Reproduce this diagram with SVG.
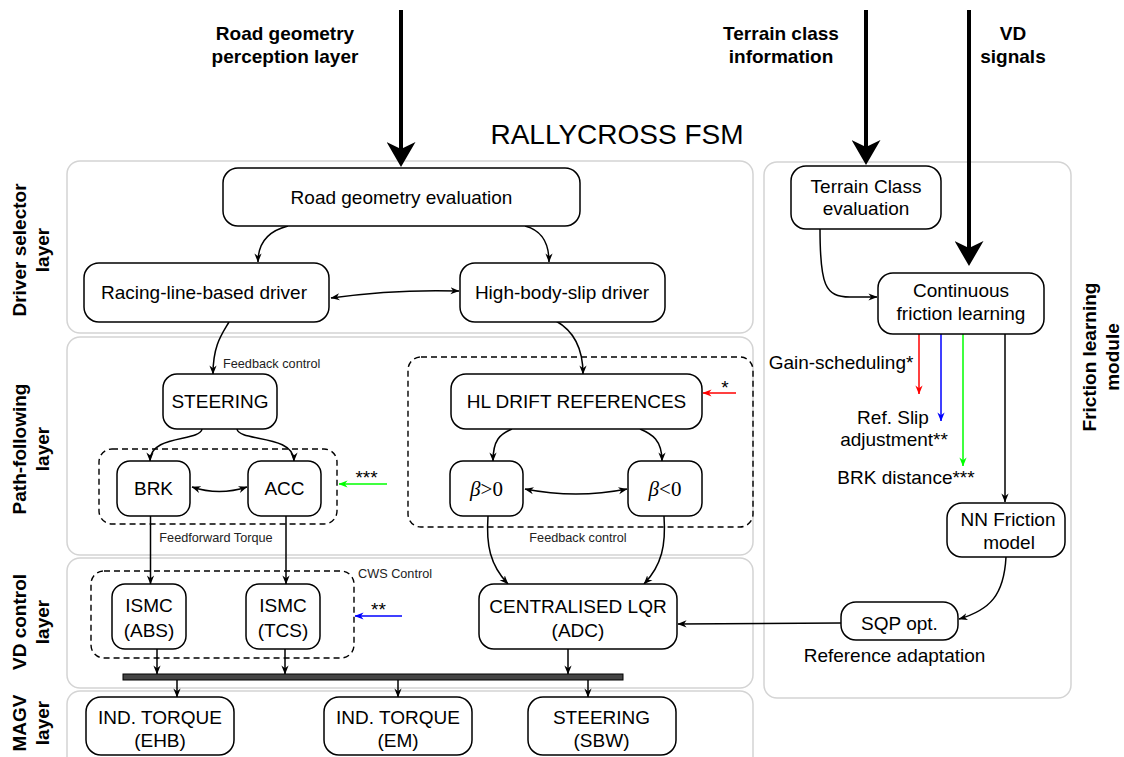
<svg xmlns="http://www.w3.org/2000/svg" width="1124" height="757" viewBox="0 0 1124 757">
  <style>
    .panel{fill:#fff;stroke:#d4d4d4;stroke-width:1.5}
    .node{fill:#fff;stroke:#000;stroke-width:1.5}
    .group{fill:none;stroke:#000;stroke-width:1.4;stroke-dasharray:6 4}
    text{font-family:"Liberation Sans",Arial,sans-serif;fill:#000}
    .lbl{font-size:19px;text-anchor:middle}
    .bold{font-size:19px;font-weight:bold;text-anchor:middle}
    .small{font-size:12.7px;fill:#222}
    .math{font-family:"Liberation Serif","Times New Roman",serif;font-size:21px;text-anchor:middle}
    .wire{fill:none;stroke:#000;stroke-width:1.5}
    .thick{fill:none;stroke:#000;stroke-width:4}
    .bus{fill:#444;stroke:#000;stroke-width:1}
  </style>
  <defs>
    <marker id="arr" viewBox="0 0 10 10" refX="9.5" refY="5" markerWidth="9" markerHeight="9" markerUnits="userSpaceOnUse" orient="auto-start-reverse">
      <path d="M0,1 L10,5 L0,9 L3,5 z" fill="#000"/>
    </marker>
    <marker id="arrR" viewBox="0 0 10 10" refX="9.5" refY="5" markerWidth="9" markerHeight="9" markerUnits="userSpaceOnUse" orient="auto">
      <path d="M0,1 L10,5 L0,9 L3,5 z" fill="#f00"/>
    </marker>
    <marker id="arrB" viewBox="0 0 10 10" refX="9.5" refY="5" markerWidth="9" markerHeight="9" markerUnits="userSpaceOnUse" orient="auto">
      <path d="M0,1 L10,5 L0,9 L3,5 z" fill="#00f"/>
    </marker>
    <marker id="arrG" viewBox="0 0 10 10" refX="9.5" refY="5" markerWidth="9" markerHeight="9" markerUnits="userSpaceOnUse" orient="auto">
      <path d="M0,1 L10,5 L0,9 L3,5 z" fill="#0f0"/>
    </marker>
    <marker id="big" viewBox="0 0 25 29" refX="7" refY="14.5" markerWidth="25" markerHeight="29" markerUnits="userSpaceOnUse" orient="auto">
      <path d="M0,0 L25,14.5 L0,29 L7,14.5 z" fill="#000"/>
    </marker>
  </defs>

  <!-- layer panels -->
  <g id="panels">
    <rect class="panel" x="67" y="161" width="686" height="172" rx="13"/>
    <rect class="panel" x="67" y="337" width="686" height="218" rx="13"/>
    <rect class="panel" x="67" y="558" width="686" height="130" rx="13"/>
    <rect class="panel" x="67" y="691" width="686" height="80" rx="13"/>
    <rect class="panel" x="764" y="162" width="307" height="536" rx="13"/>
  </g>

  <!-- layer captions -->
  <g id="captions">
    <text class="bold" transform="translate(26,250) rotate(-90)">Driver selector</text>
    <text class="bold" transform="translate(49,250) rotate(-90)">layer</text>
    <text class="bold" transform="translate(26,449) rotate(-90)">Path-following</text>
    <text class="bold" transform="translate(49,449) rotate(-90)">layer</text>
    <text class="bold" transform="translate(26,622) rotate(-90)">VD control</text>
    <text class="bold" transform="translate(49,622) rotate(-90)">layer</text>
    <text class="bold" transform="translate(26,723) rotate(-90)">MAGV</text>
    <text class="bold" transform="translate(49,723) rotate(-90)">layer</text>
    <text class="bold" transform="translate(1096,357) rotate(-90)">Friction learning</text>
    <text class="bold" transform="translate(1119,357) rotate(-90)">module</text>

    <text class="bold" x="285" y="40">Road geometry</text>
    <text class="bold" x="285" y="63">perception layer</text>
    <text class="bold" x="781" y="40">Terrain class</text>
    <text class="bold" x="781" y="63">information</text>
    <text class="bold" x="1013" y="40">VD</text>
    <text class="bold" x="1013" y="63">signals</text>

    <text x="617" y="144" font-size="28" text-anchor="middle">RALLYCROSS FSM</text>
  </g>

  <!-- dashed groupings -->
  <g id="groupings">
    <rect class="group" x="99" y="449" width="238" height="75" rx="13"/>
    <rect class="group" x="408" y="357" width="345" height="170" rx="13"/>
    <rect class="group" x="91" y="571" width="263" height="87" rx="13"/>
  </g>

  <!-- connectors -->
  <g id="connectors">
    <!-- external inputs -->
    <line class="thick" x1="401" y1="10" x2="401" y2="149" marker-end="url(#big)"/>
    <line class="thick" x1="866" y1="10" x2="866" y2="147" marker-end="url(#big)"/>
    <line class="thick" x1="969" y1="10" x2="969" y2="248" marker-end="url(#big)"/>

    <!-- driver selection -->
    <path class="wire" d="M288,226 C272,230 258,240 258,262" marker-end="url(#arr)"/>
    <path class="wire" d="M525,226 C540,230 549,240 549,262" marker-end="url(#arr)"/>
    <path class="wire" d="M331,298 Q395,289 459,291" marker-start="url(#arr)" marker-end="url(#arr)"/>

    <!-- path following -->
    <path class="wire" d="M229,322 C222,334 213,345 213,374" marker-end="url(#arr)"/>
    <path class="wire" d="M556,321 C572,330 583,345 583,374" marker-end="url(#arr)"/>
    <path class="wire" d="M202,429 C200,442 150,434 150,461" marker-end="url(#arr)"/>
    <path class="wire" d="M237,429 C239,442 294,434 294,461" marker-end="url(#arr)"/>
    <path class="wire" d="M192,487 Q219,496 247,487" marker-start="url(#arr)" marker-end="url(#arr)"/>
    <path class="wire" d="M512,429 C500,434 493,440 493,461" marker-end="url(#arr)"/>
    <path class="wire" d="M640,429 C652,434 662,440 662,461" marker-end="url(#arr)"/>
    <path class="wire" d="M525,489 Q576,499 627,489" marker-start="url(#arr)" marker-end="url(#arr)"/>

    <!-- feed-forward torque and feedback into VD control -->
    <line class="wire" x1="150.5" y1="516" x2="150.5" y2="584" marker-end="url(#arr)"/>
    <line class="wire" x1="286" y1="516" x2="286" y2="584" marker-end="url(#arr)"/>
    <path class="wire" d="M488,516 C486,545 490,565 508,584" marker-end="url(#arr)"/>
    <path class="wire" d="M664,516 C666,545 662,565 644,584" marker-end="url(#arr)"/>

    <!-- actuator bus -->
    <line class="wire" x1="157" y1="649" x2="157" y2="674" marker-end="url(#arr)"/>
    <line class="wire" x1="285" y1="649" x2="285" y2="674" marker-end="url(#arr)"/>
    <line class="wire" x1="568" y1="649" x2="568" y2="674" marker-end="url(#arr)"/>
    <rect class="bus" x="123" y="674" width="500" height="6"/>
    <line class="wire" x1="177" y1="680" x2="177" y2="697" marker-end="url(#arr)"/>
    <line class="wire" x1="398" y1="680" x2="398" y2="697" marker-end="url(#arr)"/>
    <line class="wire" x1="588" y1="680" x2="588" y2="697" marker-end="url(#arr)"/>

    <!-- friction learning -->
    <path class="wire" d="M820,229 C820,285 825,297 850,297 L877,297" marker-end="url(#arr)"/>
    <line x1="919" y1="334" x2="919" y2="394" stroke="#f00" stroke-width="1.5" marker-end="url(#arrR)"/>
    <line x1="941" y1="334" x2="941" y2="421" stroke="#00f" stroke-width="1.5" marker-end="url(#arrB)"/>
    <line x1="963" y1="334" x2="963" y2="466" stroke="#0f0" stroke-width="1.5" marker-end="url(#arrG)"/>
    <line class="wire" x1="1005" y1="334" x2="1005" y2="502" marker-end="url(#arr)"/>
    <path class="wire" d="M1006,557 C1004,595 990,610 959,619" marker-end="url(#arr)"/>
    <line class="wire" x1="841" y1="623" x2="678" y2="624" marker-end="url(#arr)"/>

    <!-- adaptation inputs -->
    <line x1="736" y1="393" x2="703" y2="393" stroke="#f00" stroke-width="1.5" marker-end="url(#arrR)"/>
    <line x1="402" y1="616" x2="355" y2="616" stroke="#00f" stroke-width="1.5" marker-end="url(#arrB)"/>
    <line x1="387" y1="484" x2="339" y2="484" stroke="#0f0" stroke-width="1.5" marker-end="url(#arrG)"/>

    <!-- connector labels -->
    <text class="small" x="223" y="367.5">Feedback control</text>
    <text class="small" x="216" y="541.5" text-anchor="middle">Feedforward Torque</text>
    <text class="small" x="578" y="541.5" text-anchor="middle">Feedback control</text>
    <text class="small" x="358" y="578">CWS Control</text>
    <text class="lbl" x="725" y="394">*</text>
    <text class="lbl" x="366.5" y="484">***</text>
    <text class="lbl" x="378.5" y="616">**</text>
    <text class="lbl" x="841" y="368.5" font-size="19">Gain-scheduling*</text>
    <text class="lbl" x="893" y="423.5">Ref. Slip</text>
    <text class="lbl" x="894" y="446">adjustment**</text>
    <text class="lbl" x="906" y="483.5">BRK distance***</text>
    <text class="lbl" x="894.5" y="661.5">Reference adaptation</text>
  </g>

  <!-- driver selector layer -->
  <g id="road-geometry-evaluation">
    <rect class="node" x="223" y="168" width="357" height="58" rx="15"/>
    <text class="lbl" x="401.5" y="203.5">Road geometry evaluation</text>
  </g>
  <g id="racing-line-driver">
    <rect class="node" x="84" y="263" width="245" height="59" rx="15"/>
    <text class="lbl" x="204" y="299">Racing-line-based driver</text>
  </g>
  <g id="high-body-slip-driver">
    <rect class="node" x="460" y="263" width="205" height="59" rx="15"/>
    <text class="lbl" x="562" y="299">High-body-slip driver</text>
  </g>

  <!-- path-following layer -->
  <g id="steering">
    <rect class="node" x="163" y="374" width="114" height="55" rx="14"/>
    <text class="lbl" x="220" y="408">STEERING</text>
  </g>
  <g id="brk">
    <rect class="node" x="117" y="461" width="73" height="55" rx="13"/>
    <text class="lbl" x="153.5" y="495">BRK</text>
  </g>
  <g id="acc">
    <rect class="node" x="248" y="461" width="73" height="55" rx="13"/>
    <text class="lbl" x="284.5" y="495">ACC</text>
  </g>
  <g id="hl-drift-references">
    <rect class="node" x="451" y="374" width="251" height="55" rx="15"/>
    <text class="lbl" x="576.5" y="408">HL DRIFT REFERENCES</text>
  </g>
  <g id="beta-positive">
    <rect class="node" x="450" y="461" width="73" height="55" rx="13"/>
    <text class="math" x="486.5" y="496"><tspan font-style="italic">β</tspan>&gt;0</text>
  </g>
  <g id="beta-negative">
    <rect class="node" x="628" y="461" width="74" height="55" rx="13"/>
    <text class="math" x="665" y="496"><tspan font-style="italic">β</tspan>&lt;0</text>
  </g>

  <!-- VD control layer -->
  <g id="ismc-abs">
    <rect class="node" x="112" y="584" width="74" height="65" rx="13"/>
    <text class="lbl" x="149" y="611.5">ISMC</text>
    <text class="lbl" x="149" y="636.5">(ABS)</text>
  </g>
  <g id="ismc-tcs">
    <rect class="node" x="246" y="584" width="74" height="65" rx="13"/>
    <text class="lbl" x="283" y="611.5">ISMC</text>
    <text class="lbl" x="283" y="636.5">(TCS)</text>
  </g>
  <g id="centralised-lqr">
    <rect class="node" x="479" y="584" width="198" height="65" rx="15"/>
    <text class="lbl" x="578" y="612.5">CENTRALISED LQR</text>
    <text class="lbl" x="578" y="636.5">(ADC)</text>
  </g>

  <!-- MAGV layer -->
  <g id="torque-ehb">
    <rect class="node" x="86" y="697" width="148" height="58" rx="15"/>
    <text class="lbl" x="160" y="723.5">IND. TORQUE</text>
    <text class="lbl" x="160" y="746.5">(EHB)</text>
  </g>
  <g id="torque-em">
    <rect class="node" x="324" y="697" width="148" height="58" rx="15"/>
    <text class="lbl" x="398" y="723.5">IND. TORQUE</text>
    <text class="lbl" x="398" y="746.5">(EM)</text>
  </g>
  <g id="steering-sbw">
    <rect class="node" x="528" y="697" width="148" height="58" rx="15"/>
    <text class="lbl" x="601.5" y="723.5">STEERING</text>
    <text class="lbl" x="601.5" y="746.5">(SBW)</text>
  </g>

  <!-- friction learning module -->
  <g id="terrain-class-evaluation">
    <rect class="node" x="791" y="166" width="150" height="63" rx="15"/>
    <text class="lbl" x="866" y="192.5">Terrain Class</text>
    <text class="lbl" x="866" y="215">evaluation</text>
  </g>
  <g id="continuous-friction-learning">
    <rect class="node" x="878" y="273" width="166" height="61" rx="15"/>
    <text class="lbl" x="961" y="296.5">Continuous</text>
    <text class="lbl" x="961" y="319.5">friction learning</text>
  </g>
  <g id="nn-friction-model">
    <rect class="node" x="947" y="503" width="118" height="54" rx="15"/>
    <text class="lbl" x="1008" y="525.5">NN Friction</text>
    <text class="lbl" x="1009" y="549">model</text>
  </g>
  <g id="sqp-opt">
    <rect class="node" x="841" y="602" width="117" height="38" rx="15"/>
    <text class="lbl" x="899.5" y="629.5">SQP opt.</text>
  </g>
</svg>
